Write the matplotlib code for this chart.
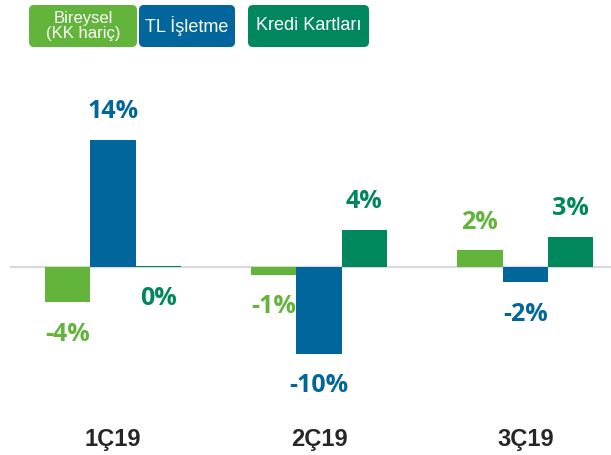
import matplotlib
matplotlib.use("Agg")
import matplotlib.pyplot as plt
from matplotlib.patches import FancyBboxPatch
import numpy as np

# values (percent)
quarters = ["1Ç19", "2Ç19", "3Ç19"]
bireysel = [-3.9, -0.9, 1.8]
tl_isletme = [14.0, -9.6, -1.7]
kredi_kartlari = [0.1, 4.1, 3.3]
series_names = ["Bireysel\n(KK hariç)", "TL İşletme", "Kredi Kartları"]
colors = ["#63b43a", "#00669b", "#00875d"]

W, H = 611, 455
fig = plt.figure(figsize=(W / 100, H / 100), dpi=100)

# main axes placed in pixel terms
top_px, bot_px = 60, 420
ax = fig.add_axes([10 / W, 1 - bot_px / H, 601 / W, (bot_px - top_px) / H])
zero_px, px_per = 266.7, 9.07
ax.set_ylim(-(bot_px - zero_px) / px_per, (zero_px - top_px) / px_per)
ax.set_xlim(-0.5, (611 - 112.8) / 206.2)

x = np.arange(len(quarters))
w = 0.22
for i, vals in enumerate([bireysel, tl_isletme, kredi_kartlari]):
    xs = x + (i - 1) * w
    ax.bar(xs, vals, width=w, color=colors[i], zorder=2)
    for xi, v in zip(xs, vals):
        if v >= 0.5:
            y0, off = v, 28
        else:
            y0, off = min(v, 0), -32
        ax.annotate(f"{round(v):.0f}%", (xi, y0),
                    xytext=(0, off * 0.72), textcoords="offset points",
                    ha="center", va="center", color=colors[i],
                    fontsize=18, fontweight="bold", family="Open Sans")

ax.axhline(0, color="#d9d9d9", linewidth=1.6, zorder=1)
ax.set_xticks(x)
ax.set_xticklabels(quarters, fontsize=17, fontweight="bold", color="#262626",
                   family="Liberation Sans")
ax.tick_params(axis="x", length=0, pad=6)
ax.tick_params(axis="y", left=False, labelleft=False)
for s in ax.spines.values():
    s.set_visible(False)

# legend boxes on top
lax = fig.add_axes([0, 0, 1, 1])
lax.set_xlim(0, W)
lax.set_ylim(H, 0)
lax.axis("off")
boxes = [(29, 137), (139, 235), (248, 369)]
for (x0, x1), name, c in zip(boxes, series_names, colors):
    lax.add_patch(FancyBboxPatch((x0, 5), x1 - x0, 42,
                                 boxstyle="round,pad=0,rounding_size=5",
                                 facecolor=c, edgecolor="none"))
    fs = 12 if "\n" in name else 13
    lax.text((x0 + x1) / 2, 26, name, ha="center", va="center", color="white",
             fontsize=fs, linespacing=0.95, family="Liberation Sans")

fig.savefig("out.png", dpi=100)
